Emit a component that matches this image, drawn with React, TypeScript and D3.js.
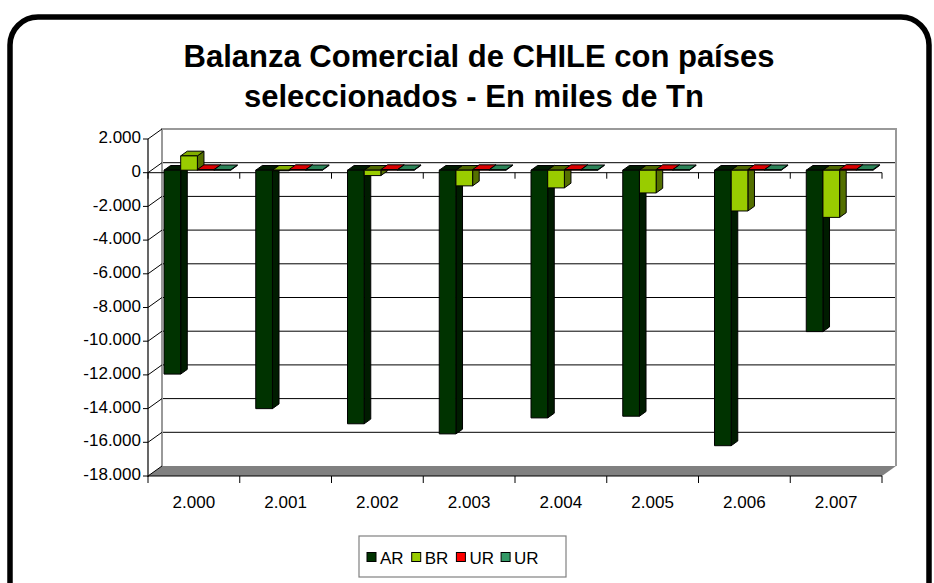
import React from "react";
import * as d3 from "d3";

// Years on the category axis (Spanish thousands notation)
const years = ["2.000", "2.001", "2.002", "2.003", "2.004", "2.005", "2.006", "2.007"];
// Series names as shown in the legend
const seriesLabels = ["AR", "BR", "UR", "UR"];
const seriesColors = ["#003300", "#99CC00", "#FF0000", "#339966"];
// Trade balance values, thousands of tonnes
const arValues = [-12100, -14150, -15050, -15650, -14700, -14600, -16350, -9580];
const brValues = [850, -30, -320, -930, -1050, -1350, -2420, -2800];
const urRedValues = [40, 40, 40, 40, 40, 40, 40, 50];
const urGreenValues = [30, 30, 30, 30, 30, 30, 30, 40];
// Value axis ticks
const yTicks = [2000, 0, -2000, -4000, -6000, -8000, -10000, -12000, -14000, -16000, -18000];

const W = 934;
const H = 583;
const FONT = "'Liberation Sans', Arial, sans-serif";

// Plot geometry (front plane) and 3D depth offset of the back wall
const X0 = 148;
const X1 = 882;
const DX = 14;
const DY = -10;
// Bars occupy this fraction of the depth
const T0 = 0.25;
const T1 = 0.72;

const locale = d3.formatLocale({
  decimal: ",",
  thousands: ".",
  grouping: [3],
  currency: ["", ""],
  minus: "-",
});
const fmt = locale.format(",");

function shade(c: string, k: number) {
  const col = d3.rgb(c);
  return d3.rgb(col.r * k, col.g * k, col.b * k).formatHex();
}

export default function App() {
  const seriesValues = [arValues, brValues, urRedValues, urGreenValues];

  const y = d3.scaleLinear().domain([-18000, 2000]).range([476, 139]);
  const xCat = d3.scaleBand<string>().domain(years).range([X0, X1]).padding(0);
  const xSer = d3
    .scaleBand<number>()
    .domain(d3.range(seriesLabels.length))
    .range([0, xCat.bandwidth()])
    .paddingInner(0)
    .paddingOuter(0.75);

  const bw = xSer.bandwidth();
  const fx = T0 * DX;
  const fy = T0 * DY;
  const ddx = (T1 - T0) * DX;
  const ddy = (T1 - T0) * DY;

  const pts = (p: [number, number][]) => p.map((q) => q.join(",")).join(" ");

  const bars: React.ReactNode[] = [];
  years.forEach((yr, ci) => {
    seriesValues.forEach((vals, si) => {
      const v = vals[ci];
      const base = seriesColors[si];
      const x0 = (xCat(yr) as number) + (xSer(si) as number) + fx;
      const yTop = y(Math.max(v, 0)) + fy;
      const yBot = y(Math.min(v, 0)) + fy;
      const x1 = x0 + bw;
      // the cap of a negative bar sits in shadow at the zero plane
      const capShade = v < -100 ? 0.5 : 0.85;
      bars.push(
        <g key={`${ci}-${si}`} stroke="#000" strokeWidth={1} strokeLinejoin="round">
          <polygon
            points={pts([
              [x1, yTop],
              [x1 + ddx, yTop + ddy],
              [x1 + ddx, yBot + ddy],
              [x1, yBot],
            ])}
            fill={shade(base, 0.55)}
          />
          <polygon
            points={pts([
              [x0, yTop],
              [x0 + ddx, yTop + ddy],
              [x1 + ddx, yTop + ddy],
              [x1, yTop],
            ])}
            fill={shade(base, capShade)}
          />
          <rect x={x0} y={yTop} width={bw} height={Math.max(0, yBot - yTop)} fill={base} />
        </g>
      );
    });
  });

  const yb = (v: number) => y(v) + DY;
  const y0 = y(0);
  const boundaries = d3.range(years.length + 1).map((i) => X0 + i * xCat.step());

  // Legend layout
  const legX = 359;
  const legY = 536;
  const legW = 207;
  const legH = 41;
  const itemStep = 44.7;

  return (
    <svg
      width={W}
      height={H}
      style={{ position: "absolute", left: 0, top: 0, background: "#fff" }}
      fontFamily={FONT}
    >
      <rect x={10} y={17} width={919} height={640} rx={28} ry={28} fill="#fff" stroke="#000" strokeWidth={5.5} />

      <text x={479} y={67} textAnchor="middle" fontSize={31} fontWeight="bold">
        Balanza Comercial de CHILE con países
      </text>
      <text x={474} y={107} textAnchor="middle" fontSize={31} fontWeight="bold">
        seleccionados - En miles de Tn
      </text>

      {/* back wall */}
      <rect x={X0 + DX} y={yb(2000)} width={X1 - X0} height={y(-18000) - y(2000)} fill="#fff" />
      {yTicks
        .filter((v) => v < 2000 && v > -18000)
        .map((v) => (
          <line key={`g${v}`} x1={X0 + DX} x2={X1 + DX} y1={yb(v)} y2={yb(v)} stroke="#000" strokeWidth={1} />
        ))}
      <polyline
        points={pts([
          [X0 + DX, yb(-18000)],
          [X0 + DX, yb(2000)],
          [X1 + DX, yb(2000)],
          [X1 + DX, yb(-18000)],
        ])}
        fill="none"
        stroke="#999"
        strokeWidth={2}
      />

      {/* floor */}
      <polygon
        points={pts([
          [X0, y(-18000)],
          [X1, y(-18000)],
          [X1 + DX, yb(-18000)],
          [X0 + DX, yb(-18000)],
        ])}
        fill="#808080"
      />

      {/* side wall edges, ticks and value labels */}
      {yTicks.map((v) => (
        <g key={`t${v}`}>
          <line x1={X0} x2={X0 + DX} y1={y(v)} y2={yb(v)} stroke="#000" strokeWidth={1} />
          <line x1={X0 - 5} x2={X0} y1={y(v)} y2={y(v)} stroke="#000" strokeWidth={1} />
          <text x={141} y={y(v) - 2} dy="0.36em" textAnchor="end" fontSize={17}>
            {fmt(v)}
          </text>
        </g>
      ))}
      <line x1={X0} x2={X0} y1={y(2000)} y2={y(-18000) + 1} stroke="#000" strokeWidth={1.2} />

      {/* zero-plane axis */}
      <line x1={X0} x2={X1} y1={y0} y2={y0} stroke="#000" strokeWidth={1} />
      {boundaries.map((bx, i) => (
        <line key={`z${i}`} x1={bx} x2={bx} y1={y0} y2={y0 + 6} stroke="#000" strokeWidth={1} />
      ))}

      {bars}

      {/* category axis */}
      <line x1={X0} x2={X1} y1={y(-18000)} y2={y(-18000)} stroke="#000" strokeWidth={1.2} />
      {boundaries.map((bx, i) => (
        <line key={`b${i}`} x1={bx} x2={bx} y1={y(-18000)} y2={y(-18000) + 7} stroke="#000" strokeWidth={1} />
      ))}
      {years.map((yr) => (
        <text
          key={yr}
          x={(xCat(yr) as number) + xCat.bandwidth() / 2}
          y={502}
          dy="0.36em"
          textAnchor="middle"
          fontSize={17}
        >
          {yr}
        </text>
      ))}

      {/* legend */}
      <rect x={legX} y={legY} width={legW} height={legH} fill="#fff" stroke="#808080" strokeWidth={1.2} />
      {seriesLabels.map((lab, i) => {
        const sx = legX + 8 + i * itemStep;
        return (
          <g key={`l${i}`}>
            <rect x={sx} y={legY + legH / 2 - 4} width={9} height={9} fill={seriesColors[i]} stroke="#000" strokeWidth={1} />
            <text x={sx + 13} y={legY + legH / 2 + 1} dy="0.36em" fontSize={17}>
              {lab}
            </text>
          </g>
        );
      })}
    </svg>
  );
}
